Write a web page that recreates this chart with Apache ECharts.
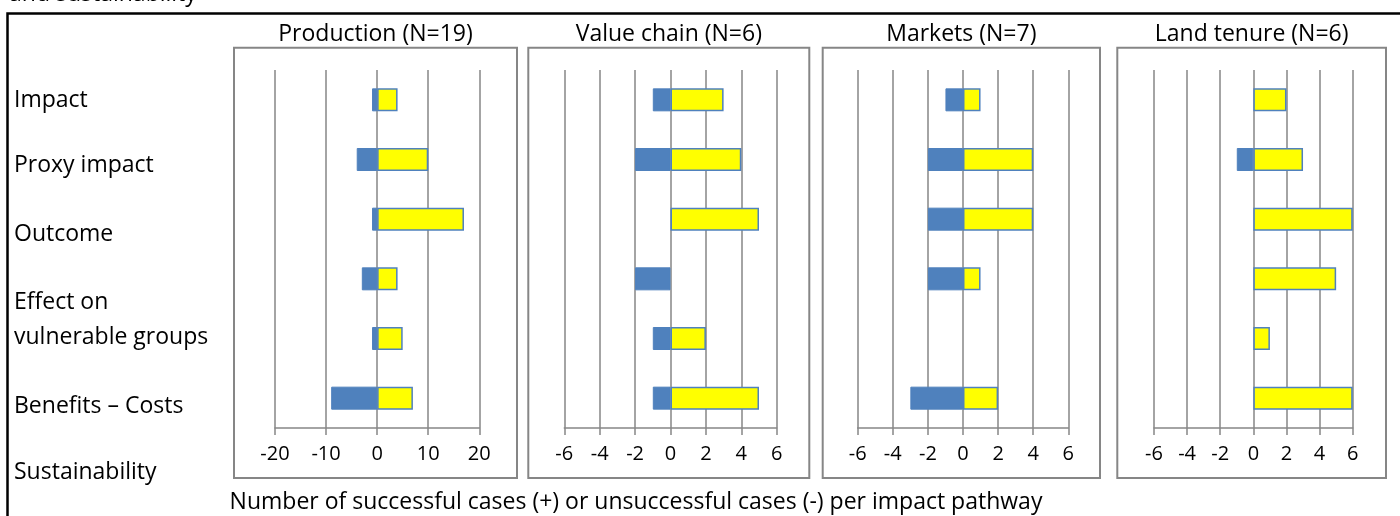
<!DOCTYPE html>
<html>
<head>
<meta charset="utf-8">
<script src="https://cdn.jsdelivr.net/npm/echarts@6/dist/echarts.min.js"></script>
<style>
html,body{margin:0;padding:0;background:#fff;}
#c{width:1400px;height:516px;}
</style>
</head>
<body>
<div id="c"></div>
<script>
const categories = ['Impact','Proxy impact','Outcome','Effect on vulnerable groups','Benefits – Costs','Sustainability'];
const rowLabels = ['Impact','Proxy impact','Outcome','Effect on','vulnerable groups','Benefits – Costs','Sustainability'];
const panelTitles = ['Production (N=19)','Value chain (N=6)','Markets (N=7)','Land tenure (N=6)'];
const productionNeg = [-1,-4,-1,-3,-1,-9];
const productionPos = [4,10,17,4,5,7];
const valueChainNeg = [-1,-2,0,-2,-1,-1];
const valueChainPos = [3,4,5,0,2,5];
const marketsNeg = [-1,-2,-2,-2,0,-3];
const marketsPos = [1,4,4,1,0,2];
const landTenureNeg = [0,-1,0,0,0,0];
const landTenurePos = [2,3,6,5,1,6];
const axisRanges = [[-20,20,10],[-6,6,2],[-6,6,2],[-6,6,2]];
const xLabel = 'Number of successful cases (+) or unsuccessful cases (-) per impact pathway';
const topText = 'and sustainability';

const barCats = categories.slice(0,6);
const negs = [productionNeg, valueChainNeg, marketsNeg, landTenureNeg];
const poss = [productionPos, valueChainPos, marketsPos, landTenurePos];

const FONT = '"Open Sans"';
const gridPos = [[275,204.3],[564.3,212.4],[857.7,210.6],[1154,198.7]];
const boxes = [[234,517],[528.3,809.3],[822.7,1100],[1117.3,1386]];
const GRID_TOP = 70, GRID_H = 358;
const BLUE = '#4F81BD', GRAY = '#868686';

const grids=[], xAxes=[], yAxes=[], series=[], graphics=[];
gridPos.forEach((g,i)=>{
  grids.push({left:g[0], width:g[1], top:GRID_TOP, height:GRID_H});
  const r = axisRanges[i];
  xAxes.push({type:'value', gridIndex:i, min:r[0], max:r[1], interval:r[2],
    axisLine:{show:true, lineStyle:{color:GRAY, width:1.5}},
    axisTick:{show:true, inside:false, length:7, lineStyle:{color:GRAY, width:1.5}},
    splitLine:{show:true, lineStyle:{color:GRAY, width:1.5}},
    axisLabel:{color:'#000', fontFamily:'Open Sans', fontSize:20, margin:16}
  });
  yAxes.push({type:'category', gridIndex:i, data:barCats, inverse:true,
    axisLine:{show:false}, axisTick:{show:false}, axisLabel:{show:false}, splitLine:{show:false}});
  series.push({type:'bar', xAxisIndex:i, yAxisIndex:i, barWidth:23, barGap:'-100%',
    data:negs[i].map(v=>v===0?'-':v),
    itemStyle:{color:BLUE, borderColor:BLUE, borderWidth:1}, silent:true});
  series.push({type:'bar', xAxisIndex:i, yAxisIndex:i, barWidth:23, barGap:'-100%',
    data:poss[i].map(v=>v===0?'-':v),
    itemStyle:{color:'#FFFF00', borderColor:BLUE, borderWidth:1.5}, silent:true});
  const b = boxes[i];
  graphics.push({type:'rect', shape:{x:b[0], y:47.7, width:b[1]-b[0], height:478-47.7},
    style:{fill:null, stroke:GRAY, lineWidth:2}, z:-1});
  graphics.push({type:'text', x:(b[0]+b[1])/2, y:34,
    style:{text:panelTitles[i], fill:'#000', font:'23px '+FONT, textAlign:'center', textVerticalAlign:'middle'}});
});

const labelY = [100,165,234,302,337,406,472];
rowLabels.forEach((t,k)=>{
  graphics.push({type:'text', x:14, y:labelY[k],
    style:{text:t, fill:'#000', font:'23px '+FONT, textAlign:'left', textVerticalAlign:'middle'}});
});
graphics.push({type:'text', x:636, y:502,
  style:{text:xLabel, fill:'#000', font:'23px '+FONT, textAlign:'center', textVerticalAlign:'middle'}});
graphics.push({type:'text', x:9, y:-6,
  style:{text:topText, fill:'#000', font:'23px '+FONT, textAlign:'left', textVerticalAlign:'middle'}});
graphics.push({type:'polyline', shape:{points:[[7.5,520],[7.5,13.5],[1405,13.5]]},
  style:{stroke:'#000', lineWidth:2.5, fill:null}});

const chart = echarts.init(document.getElementById('c'), null, {renderer:'canvas'});
chart.setOption({
  animation:false,
  backgroundColor:'#fff',
  grid:grids, xAxis:xAxes, yAxis:yAxes, series:series,
  graphic:{elements:graphics}
});
</script>
</body>
</html>
